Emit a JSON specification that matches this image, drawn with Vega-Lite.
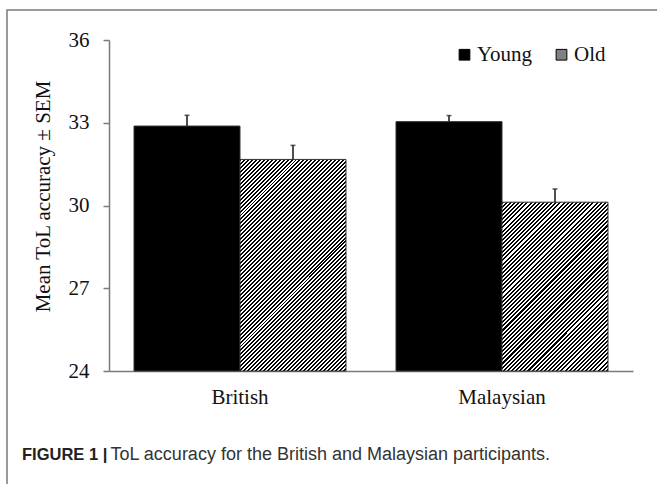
{
"$schema":"https://vega.github.io/schema/vega-lite/v6.json",
"width":660,"height":480,
"autosize":{"type":"none"},
"padding":{"left":7,"top":10,"right":-10,"bottom":-6},
"background":"white",
"config":{"view":{"stroke":"#7a7a7a","strokeWidth":1.5},"font":"Liberation Serif"},
"title":{"text":"FIGURE 1 |","anchor":"start","frame":"group","orient":"top","offset":0,"dx":15,"dy":466,"baseline":"alphabetic","font":"Liberation Sans","fontSize":16.5,"fontWeight":"bold","color":"#222"},
"data":{"values":[
{"group":"British","age":"Young","mean":32.88,"upper":33.27},
{"group":"British","age":"Old","mean":31.67,"upper":32.18},
{"group":"Malaysian","age":"Young","mean":33.04,"upper":33.26},
{"group":"Malaysian","age":"Old","mean":30.12,"upper":30.6}
]},
"encoding":{
"x":{"field":"group","type":"nominal","sort":["British","Malaysian"],
"scale":{"domain":["British","Malaysian"],"range":[102,626],"paddingInner":0.19084,"paddingOuter":0.09542},
"axis":{"orient":"bottom","offset":-119,"ticks":false,"tickSize":0,"domainColor":"#7a7a7a","domainWidth":1.5,"labelFont":"Liberation Serif","labelFontSize":21,"labelColor":"#111","labelPadding":15.5,"labelAngle":0,
"title":"ToL accuracy for the British and Malaysian participants.","titleFont":"Liberation Sans","titleFontSize":18,"titleFontWeight":"normal","titleColor":"#333","titleX":103,"titleY":88.3,"titleAlign":"left","titleAnchor":"start","titleBaseline":"alphabetic"}},
"xOffset":{"field":"age","type":"nominal","sort":["Young","Old"],"scale":{"domain":["Young","Old"],"paddingInner":0,"paddingOuter":0}}
},
"layer":[
{"mark":{"type":"bar","stroke":"#333","strokeWidth":1},
"encoding":{
"y":{"field":"mean","type":"quantitative","title":"Mean ToL accuracy ± SEM",
"scale":{"domain":[24,36],"range":[361,30],"nice":false,"zero":false},
"axis":{"values":[24,27,30,33,36],"offset":-102,"tickSize":6,"tickColor":"#7a7a7a","tickWidth":1.5,"domainColor":"#7a7a7a","domainWidth":1.5,"grid":false,"labelFont":"Liberation Serif","labelFontSize":21,"labelColor":"#111","labelPadding":14,
"titleFont":"Liberation Serif","titleFontSize":21,"titleFontWeight":"normal","titleColor":"#111","titleX":-66,"titleY":186,"titleAngle":-90,"titleAlign":"center","titleBaseline":"middle"}},
"y2":{"datum":24},
"fill":{"field":"age","type":"nominal",
"scale":{"domain":["Young","Old"],"range":["#000","#808080"]},
"legend":{"title":null,"orient":"none","legendX":447,"legendY":34,"direction":"horizontal","symbolType":"square","symbolSize":115,"symbolStrokeColor":"#000","symbolStrokeWidth":1,"symbolOpacity":1,"labelFont":"Liberation Serif","labelFontSize":21,"labelColor":"#111","labelOffset":2,"columnPadding":18,"padding":0},
"condition":[
{"test":"datum.age === 'Old' && datum.group === 'British'","value":{"gradient":"linear","x1":0,"y1":0,"x2":0.6012,"y2":1.1998,"stops":[
{"offset":0,"color":"#000"},{"offset":0.00625,"color":"#000"},{"offset":0.00625,"color":"#fff"},{"offset":0.0125,"color":"#fff"},
{"offset":0.0125,"color":"#000"},{"offset":0.01875,"color":"#000"},{"offset":0.01875,"color":"#fff"},{"offset":0.025,"color":"#fff"},
{"offset":0.025,"color":"#000"},{"offset":0.03125,"color":"#000"},{"offset":0.03125,"color":"#fff"},{"offset":0.0375,"color":"#fff"},
{"offset":0.0375,"color":"#000"},{"offset":0.04375,"color":"#000"},{"offset":0.04375,"color":"#fff"},{"offset":0.05,"color":"#fff"},
{"offset":0.05,"color":"#000"},{"offset":0.05625,"color":"#000"},{"offset":0.05625,"color":"#fff"},{"offset":0.0625,"color":"#fff"},
{"offset":0.0625,"color":"#000"},{"offset":0.06875,"color":"#000"},{"offset":0.06875,"color":"#fff"},{"offset":0.075,"color":"#fff"},
{"offset":0.075,"color":"#000"},{"offset":0.08125,"color":"#000"},{"offset":0.08125,"color":"#fff"},{"offset":0.0875,"color":"#fff"},
{"offset":0.0875,"color":"#000"},{"offset":0.09375,"color":"#000"},{"offset":0.09375,"color":"#fff"},{"offset":0.1,"color":"#fff"},
{"offset":0.1,"color":"#000"},{"offset":0.10625,"color":"#000"},{"offset":0.10625,"color":"#fff"},{"offset":0.1125,"color":"#fff"},
{"offset":0.1125,"color":"#000"},{"offset":0.11875,"color":"#000"},{"offset":0.11875,"color":"#fff"},{"offset":0.125,"color":"#fff"},
{"offset":0.125,"color":"#000"},{"offset":0.13125,"color":"#000"},{"offset":0.13125,"color":"#fff"},{"offset":0.1375,"color":"#fff"},
{"offset":0.1375,"color":"#000"},{"offset":0.14375,"color":"#000"},{"offset":0.14375,"color":"#fff"},{"offset":0.15,"color":"#fff"},
{"offset":0.15,"color":"#000"},{"offset":0.15625,"color":"#000"},{"offset":0.15625,"color":"#fff"},{"offset":0.1625,"color":"#fff"},
{"offset":0.1625,"color":"#000"},{"offset":0.16875,"color":"#000"},{"offset":0.16875,"color":"#fff"},{"offset":0.175,"color":"#fff"},
{"offset":0.175,"color":"#000"},{"offset":0.18125,"color":"#000"},{"offset":0.18125,"color":"#fff"},{"offset":0.1875,"color":"#fff"},
{"offset":0.1875,"color":"#000"},{"offset":0.19375,"color":"#000"},{"offset":0.19375,"color":"#fff"},{"offset":0.2,"color":"#fff"},
{"offset":0.2,"color":"#000"},{"offset":0.20625,"color":"#000"},{"offset":0.20625,"color":"#fff"},{"offset":0.2125,"color":"#fff"},
{"offset":0.2125,"color":"#000"},{"offset":0.21875,"color":"#000"},{"offset":0.21875,"color":"#fff"},{"offset":0.225,"color":"#fff"},
{"offset":0.225,"color":"#000"},{"offset":0.23125,"color":"#000"},{"offset":0.23125,"color":"#fff"},{"offset":0.2375,"color":"#fff"},
{"offset":0.2375,"color":"#000"},{"offset":0.24375,"color":"#000"},{"offset":0.24375,"color":"#fff"},{"offset":0.25,"color":"#fff"},
{"offset":0.25,"color":"#000"},{"offset":0.25625,"color":"#000"},{"offset":0.25625,"color":"#fff"},{"offset":0.2625,"color":"#fff"},
{"offset":0.2625,"color":"#000"},{"offset":0.26875,"color":"#000"},{"offset":0.26875,"color":"#fff"},{"offset":0.275,"color":"#fff"},
{"offset":0.275,"color":"#000"},{"offset":0.28125,"color":"#000"},{"offset":0.28125,"color":"#fff"},{"offset":0.2875,"color":"#fff"},
{"offset":0.2875,"color":"#000"},{"offset":0.29375,"color":"#000"},{"offset":0.29375,"color":"#fff"},{"offset":0.3,"color":"#fff"},
{"offset":0.3,"color":"#000"},{"offset":0.30625,"color":"#000"},{"offset":0.30625,"color":"#fff"},{"offset":0.3125,"color":"#fff"},
{"offset":0.3125,"color":"#000"},{"offset":0.31875,"color":"#000"},{"offset":0.31875,"color":"#fff"},{"offset":0.325,"color":"#fff"},
{"offset":0.325,"color":"#000"},{"offset":0.33125,"color":"#000"},{"offset":0.33125,"color":"#fff"},{"offset":0.3375,"color":"#fff"},
{"offset":0.3375,"color":"#000"},{"offset":0.34375,"color":"#000"},{"offset":0.34375,"color":"#fff"},{"offset":0.35,"color":"#fff"},
{"offset":0.35,"color":"#000"},{"offset":0.35625,"color":"#000"},{"offset":0.35625,"color":"#fff"},{"offset":0.3625,"color":"#fff"},
{"offset":0.3625,"color":"#000"},{"offset":0.36875,"color":"#000"},{"offset":0.36875,"color":"#fff"},{"offset":0.375,"color":"#fff"},
{"offset":0.375,"color":"#000"},{"offset":0.38125,"color":"#000"},{"offset":0.38125,"color":"#fff"},{"offset":0.3875,"color":"#fff"},
{"offset":0.3875,"color":"#000"},{"offset":0.39375,"color":"#000"},{"offset":0.39375,"color":"#fff"},{"offset":0.4,"color":"#fff"},
{"offset":0.4,"color":"#000"},{"offset":0.40625,"color":"#000"},{"offset":0.40625,"color":"#fff"},{"offset":0.4125,"color":"#fff"},
{"offset":0.4125,"color":"#000"},{"offset":0.41875,"color":"#000"},{"offset":0.41875,"color":"#fff"},{"offset":0.425,"color":"#fff"},
{"offset":0.425,"color":"#000"},{"offset":0.43125,"color":"#000"},{"offset":0.43125,"color":"#fff"},{"offset":0.4375,"color":"#fff"},
{"offset":0.4375,"color":"#000"},{"offset":0.44375,"color":"#000"},{"offset":0.44375,"color":"#fff"},{"offset":0.45,"color":"#fff"},
{"offset":0.45,"color":"#000"},{"offset":0.45625,"color":"#000"},{"offset":0.45625,"color":"#fff"},{"offset":0.4625,"color":"#fff"},
{"offset":0.4625,"color":"#000"},{"offset":0.46875,"color":"#000"},{"offset":0.46875,"color":"#fff"},{"offset":0.475,"color":"#fff"},
{"offset":0.475,"color":"#000"},{"offset":0.48125,"color":"#000"},{"offset":0.48125,"color":"#fff"},{"offset":0.4875,"color":"#fff"},
{"offset":0.4875,"color":"#000"},{"offset":0.49375,"color":"#000"},{"offset":0.49375,"color":"#fff"},{"offset":0.5,"color":"#fff"},
{"offset":0.5,"color":"#000"},{"offset":0.50625,"color":"#000"},{"offset":0.50625,"color":"#fff"},{"offset":0.5125,"color":"#fff"},
{"offset":0.5125,"color":"#000"},{"offset":0.51875,"color":"#000"},{"offset":0.51875,"color":"#fff"},{"offset":0.525,"color":"#fff"},
{"offset":0.525,"color":"#000"},{"offset":0.53125,"color":"#000"},{"offset":0.53125,"color":"#fff"},{"offset":0.5375,"color":"#fff"},
{"offset":0.5375,"color":"#000"},{"offset":0.54375,"color":"#000"},{"offset":0.54375,"color":"#fff"},{"offset":0.55,"color":"#fff"},
{"offset":0.55,"color":"#000"},{"offset":0.55625,"color":"#000"},{"offset":0.55625,"color":"#fff"},{"offset":0.5625,"color":"#fff"},
{"offset":0.5625,"color":"#000"},{"offset":0.56875,"color":"#000"},{"offset":0.56875,"color":"#fff"},{"offset":0.575,"color":"#fff"},
{"offset":0.575,"color":"#000"},{"offset":0.58125,"color":"#000"},{"offset":0.58125,"color":"#fff"},{"offset":0.5875,"color":"#fff"},
{"offset":0.5875,"color":"#000"},{"offset":0.59375,"color":"#000"},{"offset":0.59375,"color":"#fff"},{"offset":0.6,"color":"#fff"},
{"offset":0.6,"color":"#000"},{"offset":0.60625,"color":"#000"},{"offset":0.60625,"color":"#fff"},{"offset":0.6125,"color":"#fff"},
{"offset":0.6125,"color":"#000"},{"offset":0.61875,"color":"#000"},{"offset":0.61875,"color":"#fff"},{"offset":0.625,"color":"#fff"},
{"offset":0.625,"color":"#000"},{"offset":0.63125,"color":"#000"},{"offset":0.63125,"color":"#fff"},{"offset":0.6375,"color":"#fff"},
{"offset":0.6375,"color":"#000"},{"offset":0.64375,"color":"#000"},{"offset":0.64375,"color":"#fff"},{"offset":0.65,"color":"#fff"},
{"offset":0.65,"color":"#000"},{"offset":0.65625,"color":"#000"},{"offset":0.65625,"color":"#fff"},{"offset":0.6625,"color":"#fff"},
{"offset":0.6625,"color":"#000"},{"offset":0.66875,"color":"#000"},{"offset":0.66875,"color":"#fff"},{"offset":0.675,"color":"#fff"},
{"offset":0.675,"color":"#000"},{"offset":0.68125,"color":"#000"},{"offset":0.68125,"color":"#fff"},{"offset":0.6875,"color":"#fff"},
{"offset":0.6875,"color":"#000"},{"offset":0.69375,"color":"#000"},{"offset":0.69375,"color":"#fff"},{"offset":0.7,"color":"#fff"},
{"offset":0.7,"color":"#000"},{"offset":0.70625,"color":"#000"},{"offset":0.70625,"color":"#fff"},{"offset":0.7125,"color":"#fff"},
{"offset":0.7125,"color":"#000"},{"offset":0.71875,"color":"#000"},{"offset":0.71875,"color":"#fff"},{"offset":0.725,"color":"#fff"},
{"offset":0.725,"color":"#000"},{"offset":0.73125,"color":"#000"},{"offset":0.73125,"color":"#fff"},{"offset":0.7375,"color":"#fff"},
{"offset":0.7375,"color":"#000"},{"offset":0.74375,"color":"#000"},{"offset":0.74375,"color":"#fff"},{"offset":0.75,"color":"#fff"},
{"offset":0.75,"color":"#000"},{"offset":0.75625,"color":"#000"},{"offset":0.75625,"color":"#fff"},{"offset":0.7625,"color":"#fff"},
{"offset":0.7625,"color":"#000"},{"offset":0.76875,"color":"#000"},{"offset":0.76875,"color":"#fff"},{"offset":0.775,"color":"#fff"},
{"offset":0.775,"color":"#000"},{"offset":0.78125,"color":"#000"},{"offset":0.78125,"color":"#fff"},{"offset":0.7875,"color":"#fff"},
{"offset":0.7875,"color":"#000"},{"offset":0.79375,"color":"#000"},{"offset":0.79375,"color":"#fff"},{"offset":0.8,"color":"#fff"},
{"offset":0.8,"color":"#000"},{"offset":0.80625,"color":"#000"},{"offset":0.80625,"color":"#fff"},{"offset":0.8125,"color":"#fff"},
{"offset":0.8125,"color":"#000"},{"offset":0.81875,"color":"#000"},{"offset":0.81875,"color":"#fff"},{"offset":0.825,"color":"#fff"},
{"offset":0.825,"color":"#000"},{"offset":0.83125,"color":"#000"},{"offset":0.83125,"color":"#fff"},{"offset":0.8375,"color":"#fff"},
{"offset":0.8375,"color":"#000"},{"offset":0.84375,"color":"#000"},{"offset":0.84375,"color":"#fff"},{"offset":0.85,"color":"#fff"},
{"offset":0.85,"color":"#000"},{"offset":0.85625,"color":"#000"},{"offset":0.85625,"color":"#fff"},{"offset":0.8625,"color":"#fff"},
{"offset":0.8625,"color":"#000"},{"offset":0.86875,"color":"#000"},{"offset":0.86875,"color":"#fff"},{"offset":0.875,"color":"#fff"},
{"offset":0.875,"color":"#000"},{"offset":0.88125,"color":"#000"},{"offset":0.88125,"color":"#fff"},{"offset":0.8875,"color":"#fff"},
{"offset":0.8875,"color":"#000"},{"offset":0.89375,"color":"#000"},{"offset":0.89375,"color":"#fff"},{"offset":0.9,"color":"#fff"},
{"offset":0.9,"color":"#000"},{"offset":0.90625,"color":"#000"},{"offset":0.90625,"color":"#fff"},{"offset":0.9125,"color":"#fff"},
{"offset":0.9125,"color":"#000"},{"offset":0.91875,"color":"#000"},{"offset":0.91875,"color":"#fff"},{"offset":0.925,"color":"#fff"},
{"offset":0.925,"color":"#000"},{"offset":0.93125,"color":"#000"},{"offset":0.93125,"color":"#fff"},{"offset":0.9375,"color":"#fff"},
{"offset":0.9375,"color":"#000"},{"offset":0.94375,"color":"#000"},{"offset":0.94375,"color":"#fff"},{"offset":0.95,"color":"#fff"},
{"offset":0.95,"color":"#000"},{"offset":0.95625,"color":"#000"},{"offset":0.95625,"color":"#fff"},{"offset":0.9625,"color":"#fff"},
{"offset":0.9625,"color":"#000"},{"offset":0.96875,"color":"#000"},{"offset":0.96875,"color":"#fff"},{"offset":0.975,"color":"#fff"},
{"offset":0.975,"color":"#000"},{"offset":0.98125,"color":"#000"},{"offset":0.98125,"color":"#fff"},{"offset":0.9875,"color":"#fff"},
{"offset":0.9875,"color":"#000"},{"offset":0.99375,"color":"#000"},{"offset":0.99375,"color":"#fff"},{"offset":1,"color":"#fff"}
]}},
{"test":"datum.age === 'Old' && datum.group === 'Malaysian'","value":{"gradient":"linear","x1":0,"y1":0,"x2":0.7332,"y2":1.1676,"stops":[
{"offset":0,"color":"#000"},{"offset":0.0075,"color":"#000"},{"offset":0.0075,"color":"#fff"},{"offset":0.015,"color":"#fff"},
{"offset":0.015,"color":"#000"},{"offset":0.0225,"color":"#000"},{"offset":0.0225,"color":"#fff"},{"offset":0.03,"color":"#fff"},
{"offset":0.03,"color":"#000"},{"offset":0.0375,"color":"#000"},{"offset":0.0375,"color":"#fff"},{"offset":0.045,"color":"#fff"},
{"offset":0.045,"color":"#000"},{"offset":0.0525,"color":"#000"},{"offset":0.0525,"color":"#fff"},{"offset":0.06,"color":"#fff"},
{"offset":0.06,"color":"#000"},{"offset":0.0675,"color":"#000"},{"offset":0.0675,"color":"#fff"},{"offset":0.075,"color":"#fff"},
{"offset":0.075,"color":"#000"},{"offset":0.0825,"color":"#000"},{"offset":0.0825,"color":"#fff"},{"offset":0.09,"color":"#fff"},
{"offset":0.09,"color":"#000"},{"offset":0.0975,"color":"#000"},{"offset":0.0975,"color":"#fff"},{"offset":0.105,"color":"#fff"},
{"offset":0.105,"color":"#000"},{"offset":0.1125,"color":"#000"},{"offset":0.1125,"color":"#fff"},{"offset":0.12,"color":"#fff"},
{"offset":0.12,"color":"#000"},{"offset":0.1275,"color":"#000"},{"offset":0.1275,"color":"#fff"},{"offset":0.135,"color":"#fff"},
{"offset":0.135,"color":"#000"},{"offset":0.1425,"color":"#000"},{"offset":0.1425,"color":"#fff"},{"offset":0.15,"color":"#fff"},
{"offset":0.15,"color":"#000"},{"offset":0.1575,"color":"#000"},{"offset":0.1575,"color":"#fff"},{"offset":0.165,"color":"#fff"},
{"offset":0.165,"color":"#000"},{"offset":0.1725,"color":"#000"},{"offset":0.1725,"color":"#fff"},{"offset":0.18,"color":"#fff"},
{"offset":0.18,"color":"#000"},{"offset":0.1875,"color":"#000"},{"offset":0.1875,"color":"#fff"},{"offset":0.195,"color":"#fff"},
{"offset":0.195,"color":"#000"},{"offset":0.2025,"color":"#000"},{"offset":0.2025,"color":"#fff"},{"offset":0.21,"color":"#fff"},
{"offset":0.21,"color":"#000"},{"offset":0.2175,"color":"#000"},{"offset":0.2175,"color":"#fff"},{"offset":0.225,"color":"#fff"},
{"offset":0.225,"color":"#000"},{"offset":0.2325,"color":"#000"},{"offset":0.2325,"color":"#fff"},{"offset":0.24,"color":"#fff"},
{"offset":0.24,"color":"#000"},{"offset":0.2475,"color":"#000"},{"offset":0.2475,"color":"#fff"},{"offset":0.255,"color":"#fff"},
{"offset":0.255,"color":"#000"},{"offset":0.2625,"color":"#000"},{"offset":0.2625,"color":"#fff"},{"offset":0.27,"color":"#fff"},
{"offset":0.27,"color":"#000"},{"offset":0.2775,"color":"#000"},{"offset":0.2775,"color":"#fff"},{"offset":0.285,"color":"#fff"},
{"offset":0.285,"color":"#000"},{"offset":0.2925,"color":"#000"},{"offset":0.2925,"color":"#fff"},{"offset":0.3,"color":"#fff"},
{"offset":0.3,"color":"#000"},{"offset":0.3075,"color":"#000"},{"offset":0.3075,"color":"#fff"},{"offset":0.315,"color":"#fff"},
{"offset":0.315,"color":"#000"},{"offset":0.3225,"color":"#000"},{"offset":0.3225,"color":"#fff"},{"offset":0.33,"color":"#fff"},
{"offset":0.33,"color":"#000"},{"offset":0.3375,"color":"#000"},{"offset":0.3375,"color":"#fff"},{"offset":0.345,"color":"#fff"},
{"offset":0.345,"color":"#000"},{"offset":0.3525,"color":"#000"},{"offset":0.3525,"color":"#fff"},{"offset":0.36,"color":"#fff"},
{"offset":0.36,"color":"#000"},{"offset":0.3675,"color":"#000"},{"offset":0.3675,"color":"#fff"},{"offset":0.375,"color":"#fff"},
{"offset":0.375,"color":"#000"},{"offset":0.3825,"color":"#000"},{"offset":0.3825,"color":"#fff"},{"offset":0.39,"color":"#fff"},
{"offset":0.39,"color":"#000"},{"offset":0.3975,"color":"#000"},{"offset":0.3975,"color":"#fff"},{"offset":0.405,"color":"#fff"},
{"offset":0.405,"color":"#000"},{"offset":0.4125,"color":"#000"},{"offset":0.4125,"color":"#fff"},{"offset":0.42,"color":"#fff"},
{"offset":0.42,"color":"#000"},{"offset":0.4275,"color":"#000"},{"offset":0.4275,"color":"#fff"},{"offset":0.435,"color":"#fff"},
{"offset":0.435,"color":"#000"},{"offset":0.4425,"color":"#000"},{"offset":0.4425,"color":"#fff"},{"offset":0.45,"color":"#fff"},
{"offset":0.45,"color":"#000"},{"offset":0.4575,"color":"#000"},{"offset":0.4575,"color":"#fff"},{"offset":0.465,"color":"#fff"},
{"offset":0.465,"color":"#000"},{"offset":0.4725,"color":"#000"},{"offset":0.4725,"color":"#fff"},{"offset":0.48,"color":"#fff"},
{"offset":0.48,"color":"#000"},{"offset":0.4875,"color":"#000"},{"offset":0.4875,"color":"#fff"},{"offset":0.495,"color":"#fff"},
{"offset":0.495,"color":"#000"},{"offset":0.5025,"color":"#000"},{"offset":0.5025,"color":"#fff"},{"offset":0.51,"color":"#fff"},
{"offset":0.51,"color":"#000"},{"offset":0.5175,"color":"#000"},{"offset":0.5175,"color":"#fff"},{"offset":0.525,"color":"#fff"},
{"offset":0.525,"color":"#000"},{"offset":0.5325,"color":"#000"},{"offset":0.5325,"color":"#fff"},{"offset":0.54,"color":"#fff"},
{"offset":0.54,"color":"#000"},{"offset":0.5475,"color":"#000"},{"offset":0.5475,"color":"#fff"},{"offset":0.555,"color":"#fff"},
{"offset":0.555,"color":"#000"},{"offset":0.5625,"color":"#000"},{"offset":0.5625,"color":"#fff"},{"offset":0.57,"color":"#fff"},
{"offset":0.57,"color":"#000"},{"offset":0.5775,"color":"#000"},{"offset":0.5775,"color":"#fff"},{"offset":0.585,"color":"#fff"},
{"offset":0.585,"color":"#000"},{"offset":0.5925,"color":"#000"},{"offset":0.5925,"color":"#fff"},{"offset":0.6,"color":"#fff"},
{"offset":0.6,"color":"#000"},{"offset":0.6075,"color":"#000"},{"offset":0.6075,"color":"#fff"},{"offset":0.615,"color":"#fff"},
{"offset":0.615,"color":"#000"},{"offset":0.6225,"color":"#000"},{"offset":0.6225,"color":"#fff"},{"offset":0.63,"color":"#fff"},
{"offset":0.63,"color":"#000"},{"offset":0.6375,"color":"#000"},{"offset":0.6375,"color":"#fff"},{"offset":0.645,"color":"#fff"},
{"offset":0.645,"color":"#000"},{"offset":0.6525,"color":"#000"},{"offset":0.6525,"color":"#fff"},{"offset":0.66,"color":"#fff"},
{"offset":0.66,"color":"#000"},{"offset":0.6675,"color":"#000"},{"offset":0.6675,"color":"#fff"},{"offset":0.675,"color":"#fff"},
{"offset":0.675,"color":"#000"},{"offset":0.6825,"color":"#000"},{"offset":0.6825,"color":"#fff"},{"offset":0.69,"color":"#fff"},
{"offset":0.69,"color":"#000"},{"offset":0.6975,"color":"#000"},{"offset":0.6975,"color":"#fff"},{"offset":0.705,"color":"#fff"},
{"offset":0.705,"color":"#000"},{"offset":0.7125,"color":"#000"},{"offset":0.7125,"color":"#fff"},{"offset":0.72,"color":"#fff"},
{"offset":0.72,"color":"#000"},{"offset":0.7275,"color":"#000"},{"offset":0.7275,"color":"#fff"},{"offset":0.735,"color":"#fff"},
{"offset":0.735,"color":"#000"},{"offset":0.7425,"color":"#000"},{"offset":0.7425,"color":"#fff"},{"offset":0.75,"color":"#fff"},
{"offset":0.75,"color":"#000"},{"offset":0.7575,"color":"#000"},{"offset":0.7575,"color":"#fff"},{"offset":0.765,"color":"#fff"},
{"offset":0.765,"color":"#000"},{"offset":0.7725,"color":"#000"},{"offset":0.7725,"color":"#fff"},{"offset":0.78,"color":"#fff"},
{"offset":0.78,"color":"#000"},{"offset":0.7875,"color":"#000"},{"offset":0.7875,"color":"#fff"},{"offset":0.795,"color":"#fff"},
{"offset":0.795,"color":"#000"},{"offset":0.8025,"color":"#000"},{"offset":0.8025,"color":"#fff"},{"offset":0.81,"color":"#fff"},
{"offset":0.81,"color":"#000"},{"offset":0.8175,"color":"#000"},{"offset":0.8175,"color":"#fff"},{"offset":0.825,"color":"#fff"},
{"offset":0.825,"color":"#000"},{"offset":0.8325,"color":"#000"},{"offset":0.8325,"color":"#fff"},{"offset":0.84,"color":"#fff"},
{"offset":0.84,"color":"#000"},{"offset":0.8475,"color":"#000"},{"offset":0.8475,"color":"#fff"},{"offset":0.855,"color":"#fff"},
{"offset":0.855,"color":"#000"},{"offset":0.8625,"color":"#000"},{"offset":0.8625,"color":"#fff"},{"offset":0.87,"color":"#fff"},
{"offset":0.87,"color":"#000"},{"offset":0.8775,"color":"#000"},{"offset":0.8775,"color":"#fff"},{"offset":0.885,"color":"#fff"},
{"offset":0.885,"color":"#000"},{"offset":0.8925,"color":"#000"},{"offset":0.8925,"color":"#fff"},{"offset":0.9,"color":"#fff"},
{"offset":0.9,"color":"#000"},{"offset":0.9075,"color":"#000"},{"offset":0.9075,"color":"#fff"},{"offset":0.915,"color":"#fff"},
{"offset":0.915,"color":"#000"},{"offset":0.9225,"color":"#000"},{"offset":0.9225,"color":"#fff"},{"offset":0.93,"color":"#fff"},
{"offset":0.93,"color":"#000"},{"offset":0.9375,"color":"#000"},{"offset":0.9375,"color":"#fff"},{"offset":0.945,"color":"#fff"},
{"offset":0.945,"color":"#000"},{"offset":0.9525,"color":"#000"},{"offset":0.9525,"color":"#fff"},{"offset":0.96,"color":"#fff"},
{"offset":0.96,"color":"#000"},{"offset":0.9675,"color":"#000"},{"offset":0.9675,"color":"#fff"},{"offset":0.975,"color":"#fff"},
{"offset":0.975,"color":"#000"},{"offset":0.9825,"color":"#000"},{"offset":0.9825,"color":"#fff"},{"offset":0.99,"color":"#fff"},
{"offset":0.99,"color":"#000"},{"offset":0.9975,"color":"#000"},{"offset":0.9975,"color":"#fff"},{"offset":1,"color":"#fff"}
]}}
]}
}},
{"mark":{"type":"rule","color":"#222","strokeWidth":1.6},
"encoding":{"y":{"field":"mean","type":"quantitative","title":"Mean ToL accuracy ± SEM"},"y2":{"field":"upper"}}},
{"mark":{"type":"tick","color":"#222","size":5,"thickness":1.6,"orient":"horizontal"},
"encoding":{"y":{"field":"upper","type":"quantitative","title":"Mean ToL accuracy ± SEM"}}}
]
}
